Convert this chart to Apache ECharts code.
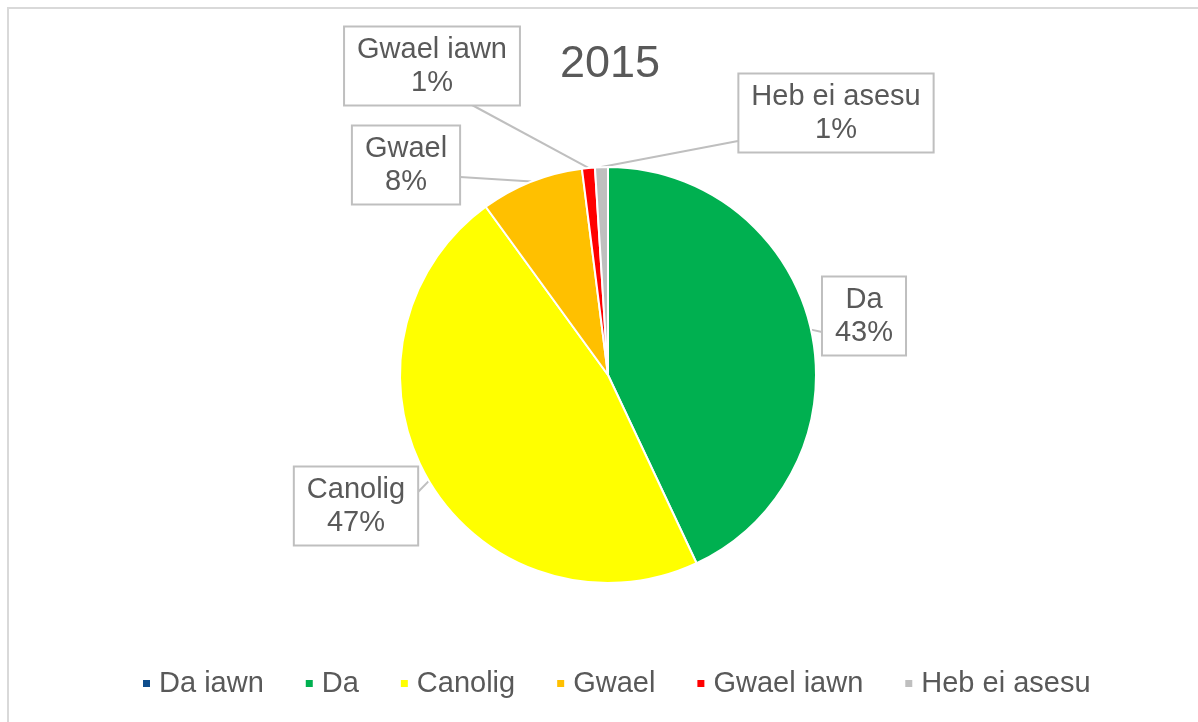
<!DOCTYPE html>
<html lang="en">
<head>
    <meta charset="UTF-8">
    <title>2015</title>
    <style>
        body {
            margin: 0;
            padding: 0;
            background: #ffffff;
        }
        #chart-container {
            width: 1198px;
            height: 722px;
        }
    </style>
    <script src="https://cdn.jsdelivr.net/npm/echarts@6/dist/echarts.min.js"></script>
</head>
<body>
    <div id="chart-container"></div>

    <script>
        // data
        const categories = ['Da iawn', 'Da', 'Canolig', 'Gwael', 'Gwael iawn', 'Heb ei asesu'];
        const values = [0, 43, 47, 8, 1, 1];
        const colors = ['#0e4d8c', '#00b050', '#ffff00', '#ffc000', '#ff0000', '#bfbfbf'];

        // callout boxes: centre of each box, and where its pointer leaves the box (offset from centre)
        const boxPos = {
            'Da': [864, 316],
            'Canolig': [356, 506],
            'Gwael': [406, 165],
            'Gwael iawn': [432, 66],
            'Heb ei asesu': [836, 113]
        };
        const pointerFrom = {
            'Da': [-42, 16],
            'Canolig': [62, -14],
            'Gwael': [54, 12],
            'Gwael iawn': [40, 39],
            'Heb ei asesu': [-98, 28]
        };

        const textColor = '#595959';
        const fontFamily = '"Liberation Sans", Arial, sans-serif';

        var chart = echarts.init(document.getElementById('chart-container'));

        var pieData = [];
        for (let i = 0; i < categories.length; i++) {
            let item = {
                name: categories[i],
                value: values[i],
                itemStyle: { color: colors[i] }
            };
            if (values[i] === 0) {
                item.label = { show: false };
                item.labelLine = { show: false };
            }
            pieData.push(item);
        }

        var option = {
            backgroundColor: '#ffffff',
            animation: false,
            title: {
                text: '2015',
                left: 555,
                top: 37,
                textStyle: {
                    fontFamily: fontFamily,
                    fontSize: 45,
                    fontWeight: 'normal',
                    color: textColor
                }
            },
            graphic: [
                {
                    type: 'rect',
                    shape: { x: 8, y: 8, width: 1220, height: 740 },
                    style: { fill: 'none', stroke: '#d9d9d9', lineWidth: 2 },
                    silent: true
                }
            ],
            legend: {
                bottom: 19,
                left: 136,
                icon: 'rect',
                itemWidth: 9,
                itemHeight: 9,
                itemGap: 40,
                data: categories,
                textStyle: {
                    fontFamily: fontFamily,
                    fontSize: 29,
                    color: textColor,
                    padding: [0, 0, 0, 3]
                }
            },
            series: [
                {
                    type: 'pie',
                    center: [608, 375],
                    radius: 208,
                    startAngle: 90,
                    clockwise: true,
                    percentPrecision: 0,
                    avoidLabelOverlap: false,
                    itemStyle: {
                        borderColor: '#ffffff',
                        borderWidth: 2
                    },
                    label: {
                        show: true,
                        position: 'outside',
                        formatter: '{b}\n{d}%',
                        fontFamily: fontFamily,
                        fontSize: 29,
                        lineHeight: 33,
                        color: textColor,
                        align: 'center',
                        backgroundColor: '#ffffff',
                        borderColor: '#bfbfbf',
                        borderWidth: 2,
                        padding: [6, 12, 5, 12]
                    },
                    labelLine: {
                        show: true,
                        length: 10,
                        length2: 10,
                        lineStyle: { color: '#bfbfbf', width: 2 }
                    },
                    labelLayout: function (params) {
                        const name = categories[params.dataIndex];
                        const pos = boxPos[name];
                        if (!pos) {
                            return {};
                        }
                        let layout = {
                            x: pos[0],
                            y: pos[1],
                            align: 'center',
                            verticalAlign: 'middle'
                        };
                        const off = pointerFrom[name];
                        if (params.labelLinePoints && off) {
                            const tip = params.labelLinePoints[0];
                            const from = [pos[0] + off[0], pos[1] + off[1]];
                            layout.labelLinePoints = [tip, from, from];
                        }
                        return layout;
                    },
                    data: pieData
                }
            ]
        };

        chart.setOption(option);
    </script>
</body>
</html>
